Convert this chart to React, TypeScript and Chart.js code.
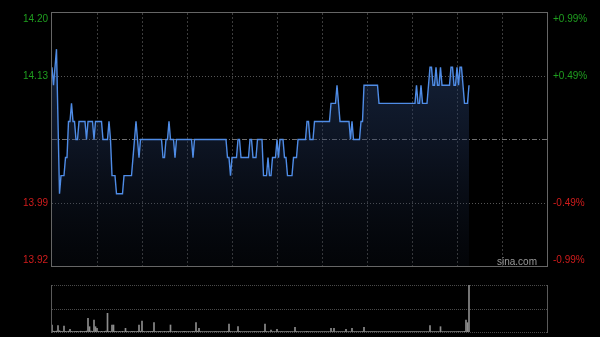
import React, { useEffect, useRef } from 'react';
import { Chart, registerables } from 'chart.js';

Chart.register(...registerables);

// Intraday price (one point per minute from 09:30)
const PRICES: number[] = [
  14.14, 14.12, 14.14, 14.16, 14.08, 14.00, 14.02, 14.02, 14.02, 14.04,
  14.04, 14.08, 14.08, 14.10, 14.08, 14.08, 14.06, 14.06, 14.08, 14.08,
  14.08, 14.08, 14.08, 14.06, 14.08, 14.08, 14.08, 14.08, 14.06, 14.08,
  14.08, 14.08, 14.08, 14.08, 14.06, 14.06, 14.06, 14.06, 14.08, 14.06,
  14.02, 14.02, 14.02, 14.00, 14.00, 14.00, 14.00, 14.00, 14.02, 14.02,
  14.02, 14.02, 14.02, 14.02, 14.04, 14.06, 14.08, 14.06, 14.04, 14.06,
  14.06, 14.06, 14.06, 14.06, 14.06, 14.06, 14.06, 14.06, 14.06, 14.06,
  14.06, 14.06, 14.06, 14.06, 14.04, 14.04, 14.06, 14.06, 14.08, 14.06,
  14.06, 14.06, 14.04, 14.06, 14.06, 14.06, 14.06, 14.06, 14.06, 14.06,
  14.06, 14.06, 14.06, 14.06, 14.04, 14.06, 14.06, 14.06, 14.06, 14.06,
  14.06, 14.06, 14.06, 14.06, 14.06, 14.06, 14.06, 14.06, 14.06, 14.06,
  14.06, 14.06, 14.06, 14.06, 14.06, 14.06, 14.06, 14.04, 14.04, 14.02,
  14.04, 14.04, 14.04, 14.04, 14.06, 14.06, 14.04, 14.04, 14.04, 14.04,
  14.04, 14.04, 14.06, 14.06, 14.04, 14.04, 14.04, 14.06, 14.06, 14.06,
  14.06, 14.02, 14.02, 14.02, 14.04, 14.02, 14.02, 14.04, 14.04, 14.04,
  14.06, 14.04, 14.06, 14.06, 14.06, 14.04, 14.04, 14.02, 14.02, 14.02,
  14.02, 14.04, 14.04, 14.04, 14.06, 14.06, 14.06, 14.06, 14.06, 14.06,
  14.08, 14.08, 14.06, 14.06, 14.06, 14.08, 14.08, 14.08, 14.08, 14.08,
  14.08, 14.08, 14.08, 14.08, 14.08, 14.08, 14.10, 14.10, 14.10, 14.10,
  14.12, 14.10, 14.08, 14.08, 14.08, 14.08, 14.08, 14.08, 14.08, 14.06,
  14.08, 14.06, 14.06, 14.06, 14.06, 14.06, 14.08, 14.08, 14.12, 14.12,
  14.12, 14.12, 14.12, 14.12, 14.12, 14.12, 14.12, 14.12, 14.10, 14.10,
  14.10, 14.10, 14.10, 14.10, 14.10, 14.10, 14.10, 14.10, 14.10, 14.10,
  14.10, 14.10, 14.10, 14.10, 14.10, 14.10, 14.10, 14.10, 14.10, 14.10,
  14.10, 14.10, 14.10, 14.12, 14.10, 14.10, 14.12, 14.10, 14.10, 14.10,
  14.10, 14.12, 14.14, 14.14, 14.12, 14.12, 14.14, 14.12, 14.12, 14.14,
  14.12, 14.12, 14.12, 14.12, 14.12, 14.12, 14.14, 14.14, 14.12, 14.12,
  14.14, 14.12, 14.14, 14.14, 14.12, 14.10, 14.10, 14.10, 14.12,
];

// Volume per minute (relative units)
const VOLUMES: number[] = [
  70, 8, 6, 9, 63, 12, 7, 5, 60, 6,
  5, 8, 27, 6, 4, 5, 7, 6, 5, 8,
  6, 5, 7, 9, 137, 53, 8, 6, 120, 53,
  37, 6, 5, 7, 4, 6, 8, 187, 6, 5,
  70, 70, 6, 5, 4, 6, 5, 7, 5, 37,
  6, 4, 5, 6, 7, 5, 4, 6, 70, 8,
  110, 6, 5, 4, 6, 5, 7, 6, 93, 5,
  4, 5, 6, 4, 5, 6, 4, 5, 6, 70,
  5, 4, 6, 5, 3, 4, 5, 4, 6, 5,
  4, 5, 3, 4, 6, 5, 93, 8, 37, 5,
  4, 3, 5, 4, 3, 4, 5, 3, 4, 5,
  3, 4, 5, 4, 3, 5, 4, 6, 80, 5,
  4, 3, 5, 4, 53, 6, 4, 3, 5, 4,
  3, 4, 5, 3, 4, 5, 3, 4, 3, 5,
  4, 6, 80, 5, 4, 3, 20, 4, 5, 3,
  27, 4, 3, 5, 4, 3, 4, 5, 3, 4,
  4, 3, 47, 5, 4, 3, 4, 3, 5, 4,
  6, 4, 3, 4, 5, 3, 4, 3, 4, 3,
  4, 3, 5, 3, 4, 3, 37, 4, 37, 3,
  5, 4, 3, 4, 3, 4, 27, 3, 4, 3,
  37, 4, 3, 4, 3, 4, 3, 5, 47, 4,
  3, 4, 3, 4, 3, 4, 3, 3, 4, 3,
  4, 3, 4, 3, 3, 4, 3, 4, 3, 3,
  4, 3, 4, 3, 4, 3, 3, 4, 3, 4,
  3, 4, 3, 4, 3, 4, 5, 3, 4, 3,
  4, 3, 63, 4, 3, 4, 3, 4, 3, 53,
  4, 3, 4, 3, 4, 3, 4, 3, 4, 3,
  4, 5, 3, 4, 3, 6, 120, 93, 470,
];

const PREV_CLOSE = 14.06;
const Y_MIN = 13.92;
const Y_MAX = 14.2;
const PRICE_TICKS = [14.2, 14.13, 14.06, 13.99, 13.92];
const PRICE_LABELS = ['14.20', '14.13', '', '13.99', '13.92'];
const PCT_LABELS = ['+0.99%', '+0.49%', '', '-0.49%', '-0.99%'];
const VOL_MAX = 470;
const GRID_EVERY = 30;

function buildTimes(): string[] {
  const out: string[] = [];
  const push = (m: number) => {
    const h = Math.floor(m / 60);
    const mm = m % 60;
    out.push(`${h}:${mm < 10 ? '0' + mm : mm}`);
  };
  for (let m = 9 * 60 + 30; m <= 12 * 60; m++) push(m);
  for (let m = 13 * 60 + 1; m <= 16 * 60; m++) push(m);
  return out;
}
const TIMES = buildTimes();

const FONT = '10px "Liberation Sans", Arial, sans-serif';
const GREEN = '#1f9e1f';
const RED = '#d01c1c';

const mainFrame = {
  id: 'mainFrame',
  beforeDatasetsDraw(chart: any) {
    const { ctx, chartArea } = chart;
    const { left, right, top, bottom } = chartArea;
    const xs = chart.scales.x;
    const ys = chart.scales.y;
    ctx.save();
    ctx.lineWidth = 1;
    // vertical grid
    ctx.strokeStyle = '#3c3c3c';
    ctx.setLineDash([2, 2]);
    for (let k = GRID_EVERY; k < TIMES.length - 1; k += GRID_EVERY) {
      const px = Math.round(xs.getPixelForValue(k)) + 0.5;
      ctx.beginPath();
      ctx.moveTo(px, top);
      ctx.lineTo(px, bottom);
      ctx.stroke();
    }
    // horizontal grid
    PRICE_TICKS.forEach((v) => {
      if (v === Y_MAX || v === Y_MIN) return;
      const py = Math.round(ys.getPixelForValue(v)) + 0.5;
      if (v === PREV_CLOSE) {
        ctx.strokeStyle = '#707070';
        ctx.setLineDash([5, 2, 1, 2]);
      } else {
        ctx.strokeStyle = '#555555';
        ctx.setLineDash([1, 2]);
      }
      ctx.beginPath();
      ctx.moveTo(left, py);
      ctx.lineTo(right, py);
      ctx.stroke();
    });
    ctx.restore();
  },
  afterDatasetsDraw(chart: any) {
    const { ctx, chartArea } = chart;
    const { left, right, top, bottom } = chartArea;
    const ys = chart.scales.y;
    ctx.save();
    ctx.setLineDash([]);
    ctx.strokeStyle = '#666666';
    ctx.lineWidth = 1;
    ctx.strokeRect(left - 0.5, top - 0.5, right - left + 1, bottom - top + 1);
    ctx.font = FONT;
    ctx.textBaseline = 'middle';
    PRICE_TICKS.forEach((v, i) => {
      let py = ys.getPixelForValue(v);
      py = Math.max(top + 6, Math.min(bottom - 6, py));
      const color = v > PREV_CLOSE ? GREEN : RED;
      ctx.fillStyle = color;
      if (PRICE_LABELS[i]) {
        ctx.textAlign = 'right';
        ctx.fillText(PRICE_LABELS[i], left - 4, py);
      }
      if (PCT_LABELS[i]) {
        ctx.textAlign = 'left';
        ctx.fillText(PCT_LABELS[i], right + 6, py);
      }
    });
    ctx.fillStyle = '#9a9a9a';
    ctx.textAlign = 'right';
    ctx.fillText('sina.com', right - 10, bottom - 4);
    ctx.restore();
  },
};

const volFrame = {
  id: 'volFrame',
  beforeDatasetsDraw(chart: any) {
    const { ctx, chartArea } = chart;
    const { left, right, top, bottom } = chartArea;
    ctx.save();
    ctx.lineWidth = 1;
    ctx.strokeStyle = '#4a4a4a';
    ctx.setLineDash([1, 1]);
    [top, (top + bottom) / 2, bottom].forEach((y) => {
      const py = Math.round(y) + 0.5;
      ctx.beginPath();
      ctx.moveTo(left, py);
      ctx.lineTo(right, py);
      ctx.stroke();
    });
    ctx.setLineDash([]);
    ctx.strokeStyle = '#5a5a5a';
    [left - 0.5, right + 0.5].forEach((x) => {
      ctx.beginPath();
      ctx.moveTo(x, top);
      ctx.lineTo(x, bottom + 1);
      ctx.stroke();
    });
    ctx.restore();
  },
};

export default function App() {
  const mainRef = useRef<HTMLCanvasElement | null>(null);
  const volRef = useRef<HTMLCanvasElement | null>(null);

  useEffect(() => {
    if (!mainRef.current || !volRef.current) return;
    const main = new Chart(mainRef.current, {
      type: 'line',
      data: {
        labels: TIMES,
        datasets: [
          {
            data: PRICES,
            borderColor: '#4f8ce6',
            borderWidth: 1.4,
            pointRadius: 0,
            tension: 0,
            fill: 'start',
            backgroundColor: (c: any) => {
              const { chart } = c;
              const area = chart.chartArea;
              if (!area) return 'rgba(0,0,0,0)';
              const g = chart.ctx.createLinearGradient(0, area.top, 0, area.bottom);
              g.addColorStop(0, 'rgba(45,75,125,0.55)');
              g.addColorStop(0.5, 'rgba(35,55,95,0.38)');
              g.addColorStop(1, 'rgba(20,30,50,0.15)');
              return g;
            },
          },
        ],
      },
      options: {
        responsive: false,
        animation: false,
        devicePixelRatio: 1,
        layout: { padding: { left: 52, right: 53, top: 13, bottom: 14 } },
        plugins: { legend: { display: false }, tooltip: { enabled: false } },
        scales: {
          x: { type: 'category', display: false, offset: false },
          y: { type: 'linear', display: false, min: Y_MIN, max: Y_MAX },
        },
      },
      plugins: [mainFrame],
    } as any);

    const vol = new Chart(volRef.current, {
      type: 'bar',
      data: {
        labels: TIMES,
        datasets: [
          {
            data: VOLUMES,
            backgroundColor: '#8c8c8c',
            barThickness: 1,
            categoryPercentage: 1,
            barPercentage: 1,
          },
        ],
      },
      options: {
        responsive: false,
        animation: false,
        devicePixelRatio: 1,
        layout: { padding: { left: 52, right: 53, top: 5, bottom: 5 } },
        plugins: { legend: { display: false }, tooltip: { enabled: false } },
        scales: {
          x: { type: 'category', display: false, offset: false },
          y: { type: 'linear', display: false, min: 0, max: VOL_MAX },
        },
      },
      plugins: [volFrame],
    } as any);

    return () => {
      main.destroy();
      vol.destroy();
    };
  }, []);

  return (
    <div
      style={{
        position: 'fixed',
        left: 0,
        top: 0,
        width: 600,
        height: 337,
        background: '#000',
        overflow: 'hidden',
      }}
    >
      <canvas
        ref={mainRef}
        width={600}
        height={280}
        style={{ position: 'absolute', left: 0, top: 0, display: 'block' }}
      />
      <canvas
        ref={volRef}
        width={600}
        height={57}
        style={{ position: 'absolute', left: 0, top: 280, display: 'block' }}
      />
    </div>
  );
}
